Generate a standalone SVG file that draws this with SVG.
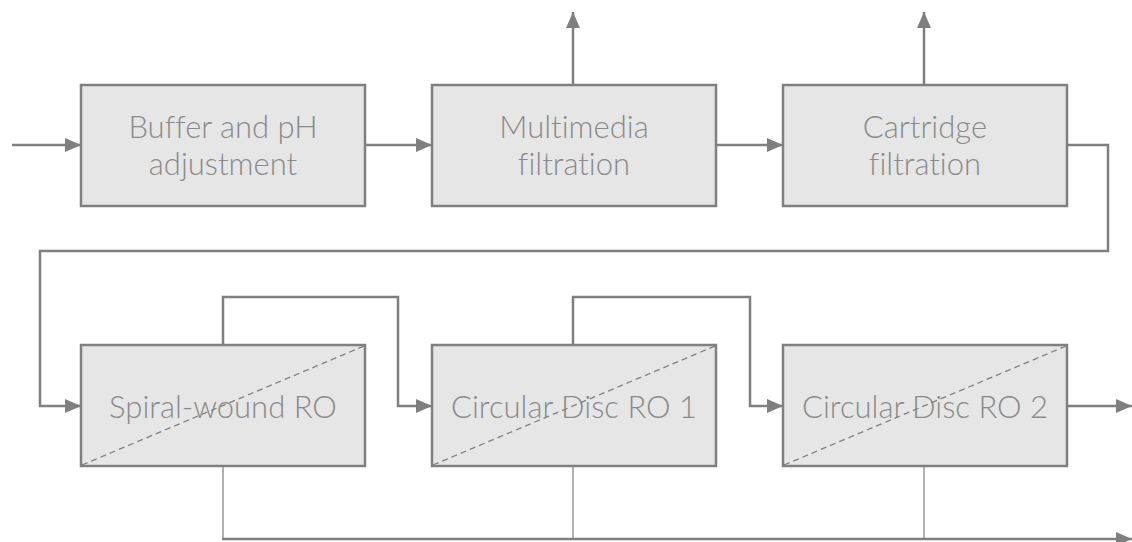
<svg xmlns="http://www.w3.org/2000/svg" width="1132" height="542" viewBox="0 0 1132 542">
<defs>
<marker id="arr" viewBox="0 0 16 14" refX="16" refY="7" markerWidth="16" markerHeight="14" markerUnits="userSpaceOnUse" orient="auto">
<path d="M0,0 L16,7 L0,14 Z" fill="#7f7f7f"/>
</marker>
</defs>
<style>
.box{fill:#e6e6e6;stroke:#808080;stroke-width:2.5}
.diag{stroke:#808080;stroke-width:1.3;stroke-dasharray:6 4;fill:none}
.lbl{font-family:Lato,"Open Sans","Liberation Sans",sans-serif;font-weight:300;font-size:31px;fill:#8a8a8a;text-anchor:middle;font-variant-ligatures:none;font-feature-settings:"liga" 0,"clig" 0}
.c{fill:none;stroke:#7f7f7f;stroke-width:2.5}
.t{fill:none;stroke:#8a8a8a;stroke-width:1.3}
</style>
<rect width="1132" height="542" fill="#ffffff"/>
<g id="connectors">
<path class="c" d="M12,145 H81" marker-end="url(#arr)"/>
<path class="c" d="M365,145 H432" marker-end="url(#arr)"/>
<path class="c" d="M716,145 H783" marker-end="url(#arr)"/>
<path class="c" d="M573,85 V12" marker-end="url(#arr)"/>
<path class="c" d="M924,85 V12" marker-end="url(#arr)"/>
<path class="c" d="M1067,145 H1108 V251 H40 V406 H81" marker-end="url(#arr)"/>
<path class="c" d="M223,345 V297 H398 V406 H432" marker-end="url(#arr)"/>
<path class="c" d="M573,345 V297 H750 V406 H783" marker-end="url(#arr)"/>
<path class="c" d="M1067,406 H1132" marker-end="url(#arr)"/>
<path class="t" d="M223,466 V539"/>
<path class="t" d="M573,466 V539"/>
<path class="t" d="M924,466 V539"/>
<path class="c" d="M222,539 H1132" marker-end="url(#arr)"/>
</g>
<g id="buffer">
<rect class="box" x="81" y="85" width="284" height="121"/>
<text class="lbl" x="223" y="138">Buffer and pH</text>
<text class="lbl" x="223" y="175">adjustment</text>
</g>
<g id="multimedia">
<rect class="box" x="432" y="85" width="284" height="121"/>
<text class="lbl" x="574" y="138">Multimedia</text>
<text class="lbl" x="574" y="175">filtration</text>
</g>
<g id="cartridge">
<rect class="box" x="783" y="85" width="284" height="121"/>
<text class="lbl" x="925" y="138">Cartridge</text>
<text class="lbl" x="925" y="175">filtration</text>
</g>
<g id="spiral">
<rect class="box" x="81" y="345" width="284" height="121"/>
<text class="lbl" x="223" y="418">Spiral-wound RO</text>
<line class="diag" x1="82" y1="465" x2="364" y2="346"/>
</g>
<g id="disc1">
<rect class="box" x="432" y="345" width="284" height="121"/>
<text class="lbl" x="574" y="418">Circular Disc RO 1</text>
<line class="diag" x1="433" y1="465" x2="715" y2="346"/>
</g>
<g id="disc2">
<rect class="box" x="783" y="345" width="284" height="121"/>
<text class="lbl" x="925" y="418">Circular Disc RO 2</text>
<line class="diag" x1="784" y1="465" x2="1066" y2="346"/>
</g>
</svg>
